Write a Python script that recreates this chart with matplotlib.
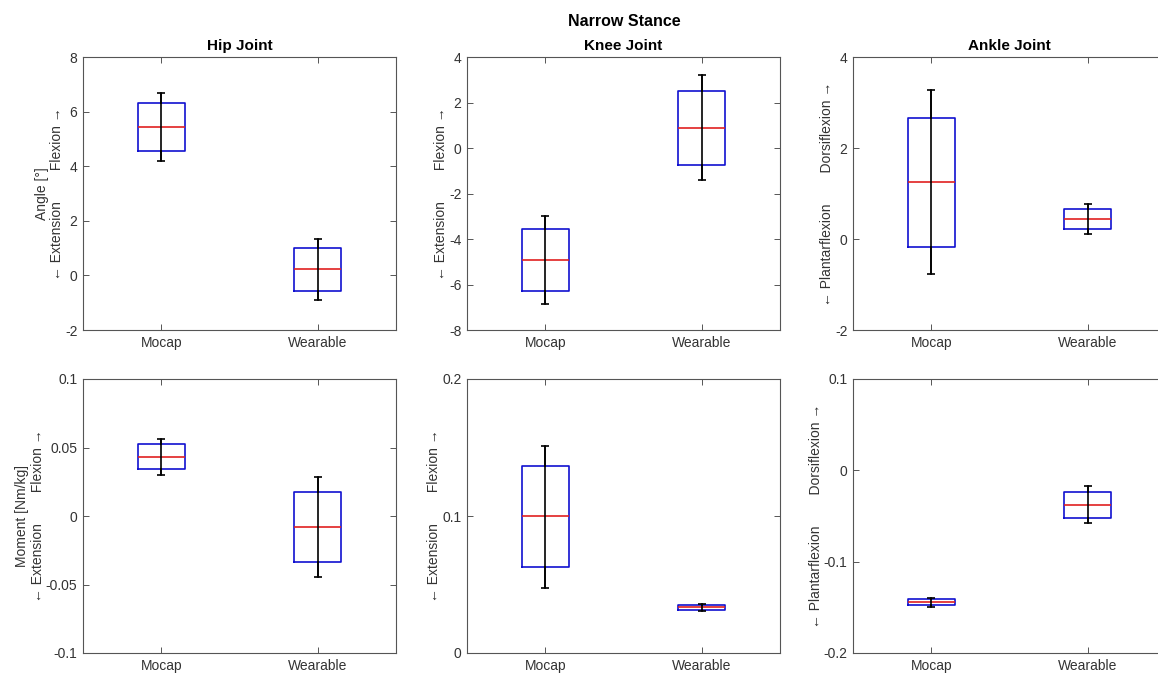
import matplotlib
matplotlib.use("Agg")
import matplotlib.pyplot as plt

plt.rcParams["font.family"] = ["Liberation Sans", "DejaVu Sans"]

# ── data: per joint box stats (whisker low, q1, median, q3, whisker high) ────
groups = ["Mocap", "Wearable"]
joints = ["Hip Joint", "Knee Joint", "Ankle Joint"]

hip_angle_mocap      = [4.18, 4.55, 5.43, 6.31, 6.68]
hip_angle_wearable   = [-0.89, -0.56, 0.23, 1.00, 1.33]
knee_angle_mocap     = [-6.87, -6.28, -4.92, -3.55, -3.00]
knee_angle_wearable  = [-1.42, -0.73, 0.88, 2.51, 3.19]
ankle_angle_mocap    = [-0.77, -0.18, 1.25, 2.67, 3.27]
ankle_angle_wearable = [0.10, 0.21, 0.44, 0.67, 0.77]

hip_moment_mocap      = [0.0302, 0.0343, 0.0433, 0.0526, 0.0564]
hip_moment_wearable   = [-0.0445, -0.0336, -0.0083, 0.0175, 0.0285]
knee_moment_mocap     = [0.0474, 0.0628, 0.0998, 0.1363, 0.1513]
knee_moment_wearable  = [0.0309, 0.0316, 0.0333, 0.0348, 0.0355]
ankle_moment_mocap    = [-0.1496, -0.1478, -0.1442, -0.1405, -0.1394]
ankle_moment_wearable = [-0.0580, -0.0522, -0.0376, -0.0234, -0.0175]

angle_data = [
    (hip_angle_mocap, hip_angle_wearable),
    (knee_angle_mocap, knee_angle_wearable),
    (ankle_angle_mocap, ankle_angle_wearable),
]
moment_data = [
    (hip_moment_mocap, hip_moment_wearable),
    (knee_moment_mocap, knee_moment_wearable),
    (ankle_moment_mocap, ankle_moment_wearable),
]

angle_ylims = [(-2, 8), (-8, 4), (-2, 4)]
angle_yticks = [[-2, 0, 2, 4, 6, 8], [-8, -6, -4, -2, 0, 2, 4], [-2, 0, 2, 4]]
moment_ylims = [(-0.1, 0.1), (0, 0.2), (-0.2, 0.1)]
moment_yticks = [[-0.1, -0.05, 0, 0.05, 0.1], [0, 0.1, 0.2], [-0.2, -0.1, 0, 0.1]]

dir_labels = [
    "\u2190 Extension        Flexion \u2192",
    "\u2190 Extension        Flexion \u2192",
    "\u2190 Plantarflexion        Dorsiflexion \u2192",
]

# ── layout (pixel boxes of each axes) ─────────────────────────────────────────
W, H = 1158, 675
lefts = [83, 467, 853]
ax_w = 313
rows = [(57, 330), (379, 653)]

AX_COL = "#555555"
TXT_COL = "#333333"


def draw_panel(ax, mocap, wearable, ylim, yticks):
    stats = []
    for name, vals in zip(groups, (mocap, wearable)):
        lo, q1, med, q3, hi = vals
        stats.append({"label": name, "whislo": lo, "q1": q1, "med": med,
                      "q3": q3, "whishi": hi, "fliers": []})
    ax.bxp(stats, positions=[1, 2], widths=0.3, showcaps=False,
           showfliers=False,
           boxprops=dict(color="#1010d0", linewidth=1.2),
           medianprops=dict(color="#e02020", linewidth=1.2),
           whiskerprops=dict(color="black", linewidth=1.2))
    # whisker line through the box, with caps
    for x, vals in zip([1, 2], (mocap, wearable)):
        lo, q1, med, q3, hi = vals
        ax.errorbar([x], [med], yerr=[[med - lo], [hi - med]], fmt="none",
                    ecolor="black", elinewidth=1.2, capsize=3, capthick=1.2,
                    zorder=3)
    ax.set_xlim(0.5, 2.5)
    ax.set_ylim(*ylim)
    ax.set_yticks(yticks)
    ax.set_yticklabels([f"{v:g}" for v in yticks])
    ax.set_xticks([1, 2])
    ax.set_xticklabels(groups)
    ax.tick_params(direction="in", top=True, right=True, length=4,
                   width=0.7, color=AX_COL, labelcolor=TXT_COL,
                   labelsize=10, pad=4)
    for sp in ax.spines.values():
        sp.set_color(AX_COL)
        sp.set_linewidth(0.8)


fig = plt.figure(figsize=(W / 100, H / 100), dpi=100)

for r, (top, bot) in enumerate(rows):
    data = angle_data if r == 0 else moment_data
    ylims = angle_ylims if r == 0 else moment_ylims
    yticks = angle_yticks if r == 0 else moment_yticks
    for c in range(3):
        ax = fig.add_axes([lefts[c] / W, 1 - bot / H, ax_w / W, (bot - top) / H])
        draw_panel(ax, data[c][0], data[c][1], ylims[c], yticks[c])
        label = dir_labels[c]
        if c == 0:
            label = ("Angle [\u00b0]" if r == 0 else "Moment [Nm/kg]") + "\n" + label
        ax.set_ylabel(label, fontsize=10, color=TXT_COL, labelpad=0.5,
                      multialignment="center", linespacing=1.15)
        if r == 0:
            ax.set_title(joints[c], fontsize=11, fontweight="bold",
                         color="black", pad=5)

fig.text(624 / W, 1 - 22 / H, "Narrow Stance", ha="center", va="center",
         fontsize=11.5, fontweight="bold", color="black")

fig.savefig("out.png", dpi=100, facecolor="white")
